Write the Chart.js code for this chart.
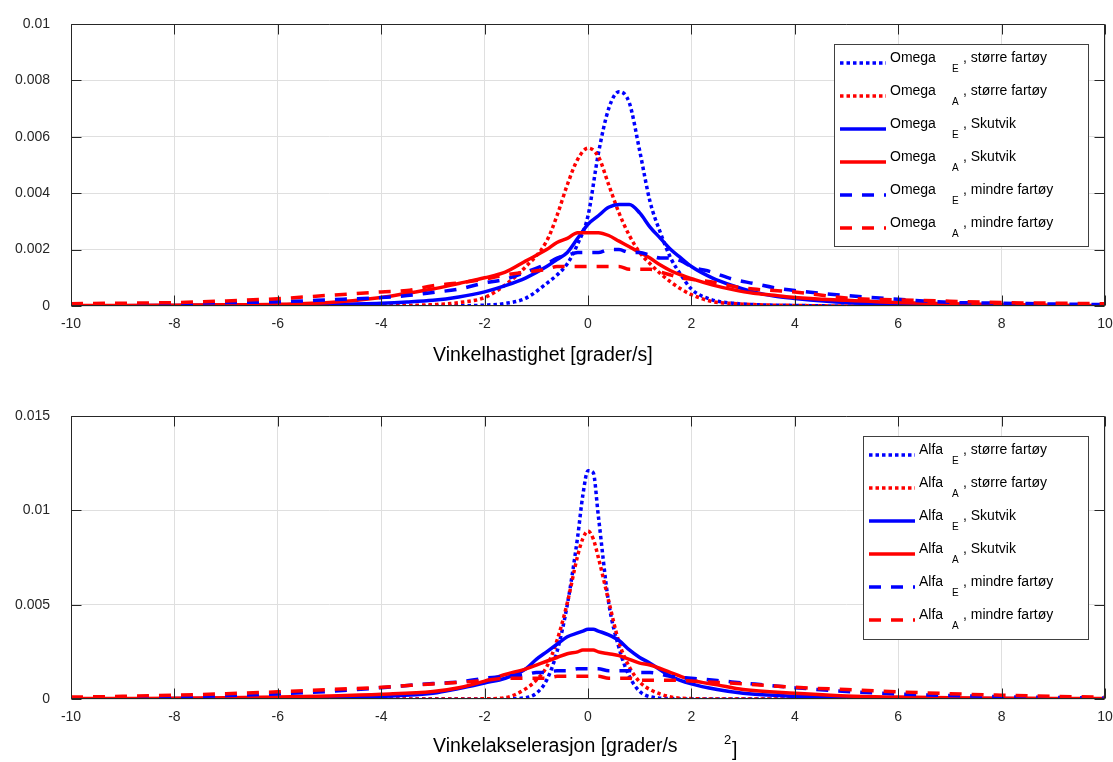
<!DOCTYPE html>
<html>
<head>
<meta charset="utf-8">
<script src="https://cdn.jsdelivr.net/npm/chart.js@4.4.1/dist/chart.umd.min.js"></script>
<style>
  html, body { margin: 0; padding: 0; background: #ffffff; }
  #wrap { position: relative; width: 1113px; height: 762px; background: #fff; }
  canvas { position: absolute; left: 0; }
  #c1 { top: 0; }
  #c2 { top: 381px; }
</style>
</head>
<body>
<div id="wrap">
  <canvas id="c1" width="1113" height="381"></canvas>
  <canvas id="c2" width="1113" height="381"></canvas>
</div>
<script>
// ---------- DATA: top panel (angular velocity) ----------
const omegaX = [-10,-9,-8,-7,-6,-5,-4,-3.5,-3,-2.5,-2,-1.6,-1.2,-0.8,-0.6,-0.4,-0.2,0,0.2,0.4,0.6,0.8,1.0,1.2,1.4,1.6,1.8,2.0,2.4,2.8,3.2,3.6,4,5,6,7,8,9,10];
const omegaE_storre  = [0,0,0,0,0,0,0,0,0.00001,0.00001,0.00003,0.00009,0.00028,0.0008,0.0011,0.0015,0.0022,0.0032,0.0054,0.007,0.0076,0.0072,0.0055,0.0037,0.0026,0.0017,0.0011,0.0006,0.00022,0.0001,0.00005,0.00003,0.00002,0,0,0,0,0,0];
const omegaA_storre  = [0,0,0,0,0,0,0,0.00002,0.00005,0.00012,0.0003,0.00075,0.0014,0.0023,0.0032,0.0043,0.0052,0.0056,0.0053,0.0043,0.0033,0.0025,0.0019,0.0015,0.00115,0.00085,0.0006,0.0004,0.00016,0.00009,0.00005,0.00003,0.00002,0,0,0,0,0,0];
const omegaE_skutvik = [0.00001,0.00001,0.00002,0.00003,0.00004,0.00006,0.0001,0.00014,0.0002,0.00032,0.0005,0.00072,0.001,0.0014,0.00165,0.0019,0.0024,0.0029,0.0032,0.0035,0.0036,0.0036,0.0033,0.0028,0.0024,0.002,0.0017,0.0014,0.001,0.00072,0.0005,0.00035,0.00027,0.00012,0.00005,0.00003,0.00002,0.00001,0.00001];
const omegaA_skutvik = [0.00002,0.00002,0.00003,0.00004,0.00006,0.00012,0.0003,0.00045,0.0006,0.0008,0.001,0.0012,0.0016,0.002,0.00225,0.0024,0.0026,0.0026,0.0026,0.0025,0.0023,0.0021,0.0019,0.0017,0.00145,0.00125,0.0011,0.00097,0.00075,0.00058,0.00045,0.00038,0.0003,0.0002,0.00012,0.00008,0.00005,0.00003,0.00002];
const omegaE_mindre  = [0.00005,0.00007,0.00009,0.00012,0.00015,0.00022,0.0003,0.00037,0.00048,0.0006,0.00082,0.00095,0.0012,0.0015,0.0017,0.0018,0.0019,0.0019,0.0019,0.002,0.002,0.0019,0.0019,0.0018,0.0017,0.0017,0.0016,0.0014,0.0012,0.00095,0.0008,0.00065,0.00055,0.00037,0.00024,0.00013,0.0001,0.00007,0.00005];
const omegaA_mindre  = [0.00008,0.0001,0.00012,0.00018,0.00026,0.00038,0.0005,0.00055,0.00072,0.00082,0.00095,0.0011,0.0012,0.0013,0.0014,0.0014,0.0014,0.0014,0.0014,0.0014,0.0014,0.0013,0.0013,0.0013,0.0012,0.0011,0.001,0.00095,0.00085,0.0007,0.0006,0.00055,0.0005,0.00028,0.00022,0.00017,0.00012,0.0001,0.00008];
const omegaYTicks = [0,0.002,0.004,0.006,0.008,0.01];
const omegaYLabels = ['0','0.002','0.004','0.006','0.008','0.01'];

// ---------- DATA: bottom panel (angular acceleration) ----------
const alfaX = [-10,-9,-8,-7,-6,-5,-4,-3,-2.5,-2,-1.6,-1.2,-1,-0.8,-0.6,-0.4,-0.2,-0.1,0,0.1,0.2,0.4,0.6,0.8,1,1.2,1.6,2,2.5,3,4,5,6,7,8,9,10];
const alfaE_storre  = [0,0,0,0,0,0,0,0,0,0,0.00001,0.00007,0.0003,0.001,0.0025,0.005,0.0086,0.0108,0.0121,0.012,0.0097,0.0051,0.0027,0.0012,0.0004,0.00012,0.00002,0,0,0,0,0,0,0,0,0,0];
const alfaA_storre  = [0,0,0,0,0,0,0,0,0,0.00001,0.00007,0.00055,0.001,0.0017,0.0031,0.0051,0.0076,0.0085,0.0089,0.0085,0.0075,0.0052,0.003,0.0017,0.0009,0.0005,0.00011,0.00002,0,0,0,0,0,0,0,0,0];
const alfaE_skutvik = [0.00001,0.00001,0.00002,0.00003,0.00004,0.00007,0.00014,0.0003,0.00055,0.00085,0.0011,0.0016,0.0021,0.0025,0.0029,0.0033,0.0035,0.0036,0.0037,0.0037,0.0036,0.0034,0.0031,0.0026,0.0022,0.0019,0.0012,0.0008,0.0005,0.0003,0.00014,0.00007,0.00004,0.00003,0.00002,0.00001,0.00001];
const alfaA_skutvik = [0.00002,0.00003,0.00004,0.00006,0.0001,0.00016,0.00025,0.0004,0.0006,0.00095,0.0013,0.0016,0.0018,0.002,0.0022,0.0024,0.0025,0.0026,0.0026,0.0026,0.0025,0.0024,0.0023,0.0021,0.0019,0.0018,0.0014,0.001,0.00075,0.0005,0.0003,0.00016,0.0001,0.00006,0.00004,0.00003,0.00002];
const alfaE_mindre  = [0.00005,0.00008,0.00012,0.00018,0.00027,0.0004,0.0006,0.00082,0.0009,0.0011,0.0012,0.0013,0.0014,0.0014,0.0015,0.0015,0.0016,0.0016,0.0016,0.0016,0.0016,0.0015,0.0015,0.0015,0.0014,0.0014,0.0012,0.0011,0.00098,0.00085,0.0006,0.0004,0.00027,0.00018,0.00012,0.00008,0.00005];
const alfaA_mindre  = [0.0001,0.00014,0.0002,0.00028,0.00038,0.0005,0.00062,0.0008,0.00088,0.00098,0.0011,0.0011,0.0011,0.0011,0.0012,0.0012,0.0012,0.0012,0.0012,0.0012,0.0012,0.0011,0.0011,0.0011,0.001,0.001,0.001,0.00095,0.00088,0.0008,0.00062,0.0005,0.00038,0.00028,0.0002,0.00014,0.0001];
const alfaYTicks = [0,0.005,0.01,0.015];
const alfaYLabels = ['0','0.005','0.01','0.015'];

// ---------- shared ----------
const xTicks = [-10,-8,-6,-4,-2,0,2,4,6,8,10];
const xTickLabels = ['-10','-8','-6','-4','-2','0','2','4','6','8','10'];
const seriesNames = [', større fartøy', ', større fartøy', ', Skutvik', ', Skutvik', ', mindre fartøy', ', mindre fartøy'];
const seriesSubs = ['E','A','E','A','E','A'];

const FONT = '"Liberation Sans", Arial, Helvetica, sans-serif';
const AX = '#262626';
const BLUE = '#0000ff', RED = '#ff0000';
const styles = [
  {c: BLUE, dash: [3.5, 3]},
  {c: RED,  dash: [3.5, 3]},
  {c: BLUE, dash: []},
  {c: RED,  dash: []},
  {c: BLUE, dash: [12, 10]},
  {c: RED,  dash: [12, 10]}
];

function pts(xs, ys) { return xs.map((x, i) => ({x: x, y: ys[i]})); }

function makeDatasets(xs, arrs) {
  return arrs.map((a, i) => ({
    data: pts(xs, a),
    borderColor: styles[i].c,
    backgroundColor: styles[i].c,
    borderDash: styles[i].dash,
    borderWidth: 3.5,
    borderCapStyle: 'butt',
    pointRadius: 0,
    fill: false,
    cubicInterpolationMode: 'monotone',
    order: arrs.length - i
  }));
}

function decorPlugin(opt) {
  return {
    id: 'decor',
    afterDraw(chart) {
      const ctx = chart.ctx, ca = chart.chartArea;
      const xs = chart.scales.x, ys = chart.scales.y;
      const L = Math.round(ca.left) + 0.5, R = Math.round(ca.right) - 0.5;
      const T = Math.round(ca.top) + 0.5, B = Math.round(ca.bottom) - 0.5;
      ctx.save();
      ctx.strokeStyle = AX; ctx.lineWidth = 1;
      ctx.beginPath();
      ctx.rect(L, T, R - L, B - T);
      xTicks.forEach(v => {
        const p = Math.round(xs.getPixelForValue(v)) + 0.5;
        ctx.moveTo(p, B); ctx.lineTo(p, B - 10);
        ctx.moveTo(p, T); ctx.lineTo(p, T + 10);
      });
      opt.yTicks.forEach(v => {
        const p = Math.round(ys.getPixelForValue(v)) + 0.5;
        ctx.moveTo(L, p); ctx.lineTo(L + 10, p);
        ctx.moveTo(R, p); ctx.lineTo(R - 10, p);
      });
      ctx.stroke();

      // legend
      const lg = opt.legend;
      ctx.fillStyle = '#ffffff';
      ctx.fillRect(lg.left, lg.top, lg.right - lg.left, lg.bottom - lg.top);
      ctx.strokeStyle = '#404040';
      ctx.strokeRect(lg.left + 0.5, lg.top + 0.5, lg.right - lg.left, lg.bottom - lg.top);
      chart.data.datasets.forEach((ds, i) => {
        const ry = lg.top + 19 + i * 33;
        ctx.save();
        ctx.strokeStyle = ds.borderColor;
        ctx.lineWidth = 3.5;
        ctx.lineCap = 'butt';
        ctx.setLineDash(ds.borderDash);
        ctx.beginPath();
        ctx.moveTo(lg.left + 6, ry); ctx.lineTo(lg.left + 52, ry);
        ctx.stroke();
        ctx.restore();
        ctx.fillStyle = '#000000';
        ctx.textBaseline = 'middle';
        ctx.textAlign = 'left';
        ctx.font = '14px ' + FONT;
        ctx.fillText(opt.name, lg.left + 56, ry - 5);
        ctx.fillText(seriesNames[i], lg.right - 125, ry - 5);
        ctx.font = '10px ' + FONT;
        ctx.fillText(seriesSubs[i], lg.right - 136, ry + 6);
      });

      // x axis title
      ctx.fillStyle = '#000000';
      ctx.textBaseline = 'middle';
      ctx.textAlign = 'left';
      ctx.font = '19.5px ' + FONT;
      ctx.fillText(opt.xTitle, 433, opt.xTitleY);
      if (opt.xSup) {
        ctx.font = '13px ' + FONT;
        ctx.fillText(opt.xSup, 724, opt.xTitleY - 7);
        ctx.font = '19.5px ' + FONT;
        ctx.fillText(opt.xTail, 732, opt.xTitleY + 4);
      }
      ctx.restore();
    }
  };
}

function makeChart(id, xs, arrs, yMax, yTicks, yLabels, padTop, bottomPx, opt) {
  return new Chart(document.getElementById(id), {
    type: 'line',
    data: { datasets: makeDatasets(xs, arrs) },
    options: {
      responsive: false,
      animation: false,
      devicePixelRatio: 1,
      layout: { autoPadding: false, padding: { left: 0, right: 8, top: padTop, bottom: 0 } },
      plugins: { legend: { display: false }, tooltip: { enabled: false } },
      scales: {
        x: {
          type: 'linear', min: -10, max: 10,
          afterFit: s => { s.height = 381 - bottomPx; s.paddingLeft = 0; s.paddingRight = 0; s.paddingTop = 0; s.paddingBottom = 0; },
          afterBuildTicks: s => { s.ticks = xTicks.map(v => ({value: v})); },
          grid: { color: '#dfdfdf', lineWidth: 1, drawTicks: false },
          border: { display: false },
          ticks: {
            autoSkip: false, maxRotation: 0, padding: 10, color: AX,
            font: { family: FONT, size: 14 },
            callback: (v, i) => xTickLabels[i]
          }
        },
        y: {
          type: 'linear', min: 0, max: yMax,
          afterFit: s => { s.width = 71; s.paddingLeft = 0; s.paddingRight = 0; s.paddingTop = 0; s.paddingBottom = 0; },
          afterBuildTicks: s => { s.ticks = yTicks.map(v => ({value: v})); },
          grid: { color: '#dfdfdf', lineWidth: 1, drawTicks: false },
          border: { display: false },
          ticks: {
            autoSkip: false, padding: 21, color: AX,
            font: { family: FONT, size: 14 },
            callback: (v, i) => yLabels[i]
          }
        }
      }
    },
    plugins: [decorPlugin(opt)]
  });
}

makeChart('c1', omegaX,
  [omegaE_storre, omegaA_storre, omegaE_skutvik, omegaA_skutvik, omegaE_mindre, omegaA_mindre],
  0.01, omegaYTicks, omegaYLabels, 24, 306,
  { yTicks: omegaYTicks, name: 'Omega',
    legend: { left: 834, right: 1088, top: 44, bottom: 246 },
    xTitle: 'Vinkelhastighet [grader/s]', xTitleY: 356 });

makeChart('c2', alfaX,
  [alfaE_storre, alfaA_storre, alfaE_skutvik, alfaA_skutvik, alfaE_mindre, alfaA_mindre],
  0.015, alfaYTicks, alfaYLabels, 35, 318,
  { yTicks: alfaYTicks, name: 'Alfa',
    legend: { left: 863, right: 1088, top: 55, bottom: 258 },
    xTitle: 'Vinkelakselerasjon [grader/s', xSup: '2', xTail: ']', xTitleY: 366 });
</script>
</body>
</html>
